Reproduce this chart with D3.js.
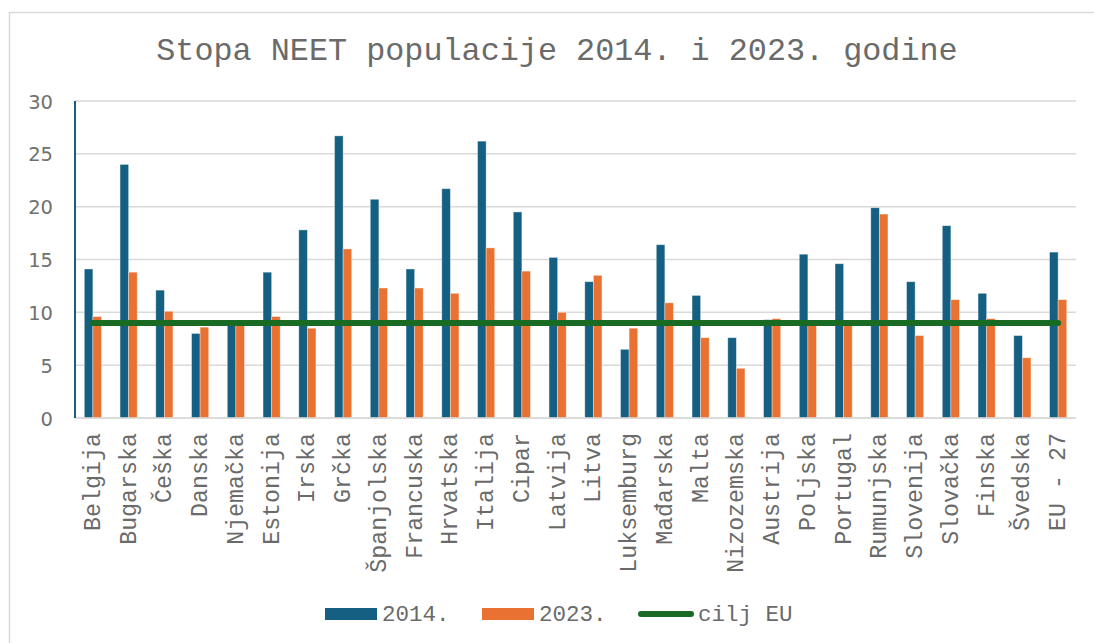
<!DOCTYPE html>
<html>
<head>
<meta charset="utf-8">
<script src="https://cdn.jsdelivr.net/npm/d3@7"></script>
<style>
  html, body { margin: 0; padding: 0; background: #fff; }
  svg { display: block; }
</style>
</head>
<body>
<script>
const width = 1094;
const height = 643;

const countries = [
  "Belgija", "Bugarska", "Češka", "Danska", "Njemačka", "Estonija", "Irska",
  "Grčka", "Španjolska", "Francuska", "Hrvatska", "Italija", "Cipar",
  "Latvija", "Litva", "Luksemburg", "Mađarska", "Malta", "Nizozemska",
  "Austrija", "Poljska", "Portugal", "Rumunjska", "Slovenija", "Slovačka",
  "Finska", "Švedska", "EU - 27"
];
const values2014 = [14.1, 24.0, 12.1, 8.0, 8.8, 13.8, 17.8, 26.7, 20.7, 14.1, 21.7, 26.2, 19.5, 15.2,
  12.9, 6.5, 16.4, 11.6, 7.6, 9.3, 15.5, 14.6, 19.9, 12.9, 18.2, 11.8, 7.8, 15.7];
const values2023 = [9.6, 13.8, 10.1, 8.6, 8.8, 9.6, 8.5, 16.0, 12.3, 12.3, 11.8, 16.1, 13.9, 10.0,
  13.5, 8.5, 10.9, 7.6, 4.7, 9.4, 8.9, 8.9, 19.3, 7.8, 11.2, 9.4, 5.7, 11.2];
const euTarget = countries.map(() => 9);
const yTicks = [0, 5, 10, 15, 20, 25, 30];

const series = [
  { key: "2014.", values: values2014, color: "#156082" },
  { key: "2023.", values: values2023, color: "#E97132" }
];
const lineColor = "#196B24";
// a bit lighter than Office's #595959 since Liberation Mono is heavier than Courier New
const textColor = "#6a6a6a";
const mono = "'Liberation Mono', 'Courier New', monospace";

const margin = { top: 101, right: 18, bottom: 225, left: 75 };

const svg = d3.select("body").append("svg")
  .attr("width", width)
  .attr("height", height);

// chart frame
svg.append("rect")
  .attr("x", 9.5).attr("y", 12.5)
  .attr("width", width + 20).attr("height", height + 20)
  .attr("fill", "none")
  .attr("stroke", "#D9D9D9")
  .attr("stroke-width", 1.5);

const x0 = d3.scaleBand()
  .domain(countries)
  .range([margin.left, width - margin.right])
  .paddingInner(0.52)
  .paddingOuter(0.26);

const x1 = d3.scaleBand()
  .domain(series.map(d => d.key))
  .range([0, x0.bandwidth()]);

const y = d3.scaleLinear()
  .domain([0, 30])
  .range([height - margin.bottom, margin.top]);

// title
svg.append("text")
  .attr("x", 557)
  .attr("y", 60)
  .attr("text-anchor", "middle")
  .attr("font-family", mono)
  .attr("font-size", 31.8)
  .attr("fill", textColor)
  .text("Stopa NEET populacije 2014. i 2023. godine");

// grid
svg.append("g")
  .selectAll("line")
  .data(yTicks)
  .join("line")
  .attr("x1", margin.left)
  .attr("x2", width - margin.right)
  .attr("y1", d => y(d))
  .attr("y2", d => y(d))
  .attr("stroke", "#D9D9D9")
  .attr("stroke-width", 1.5);

// y axis labels
const yAxis = svg.append("g")
  .attr("transform", `translate(${margin.left - 22},0)`)
  .call(d3.axisLeft(y).tickValues(yTicks).tickSize(0).tickPadding(0));
yAxis.select(".domain").remove();
yAxis.selectAll("text")
  .attr("font-family", "'DejaVu Sans', sans-serif")
  .attr("font-size", 19.5)
  .attr("fill", "#707070")
  .attr("dy", "0.36em");

// bars
const groups = svg.append("g")
  .selectAll("g")
  .data(countries)
  .join("g")
  .attr("transform", d => `translate(${x0(d)},0)`);

groups.selectAll("rect")
  .data((d, i) => series.map(s => ({ key: s.key, value: s.values[i], color: s.color })))
  .join("rect")
  .attr("x", d => x1(d.key))
  .attr("width", x1.bandwidth())
  .attr("y", d => y(d.value))
  .attr("height", d => y(0) - y(d.value))
  .attr("fill", d => d.color)
  .attr("stroke", "#ffffff")
  .attr("stroke-opacity", 0.45)
  .attr("stroke-width", 0.8);

// axis lines
svg.append("line")
  .attr("x1", margin.left).attr("x2", width - margin.right)
  .attr("y1", y(0)).attr("y2", y(0))
  .attr("stroke", "#D9D9D9").attr("stroke-width", 1.5);
svg.append("line")
  .attr("x1", margin.left).attr("x2", margin.left)
  .attr("y1", y(30)).attr("y2", y(0))
  .attr("stroke", "#156082").attr("stroke-width", 2);

// EU target line
const line = d3.line()
  .x((d, i) => x0(countries[i]) + x0.bandwidth() / 2)
  .y(d => y(d));
svg.append("path")
  .datum(euTarget)
  .attr("d", line)
  .attr("fill", "none")
  .attr("stroke", lineColor)
  .attr("stroke-width", 6)
  .attr("stroke-linecap", "round");

// x labels
svg.append("g")
  .selectAll("text")
  .data(countries)
  .join("text")
  .attr("transform", d => `translate(${x0(d) + x0.bandwidth() / 2},${y(0) + 15}) rotate(-90)`)
  .attr("text-anchor", "end")
  .attr("dy", "0.3em")
  .attr("font-family", mono)
  .attr("font-size", 23.3)
  .attr("fill", textColor)
  .text(d => d);

// legend
const legendItems = [
  { label: "2014.", color: series[0].color, type: "rect", x: 325 },
  { label: "2023.", color: series[1].color, type: "rect", x: 482 },
  { label: "cilj EU", color: lineColor, type: "line", x: 638 }
];
const legend = svg.append("g")
  .selectAll("g")
  .data(legendItems)
  .join("g")
  .attr("transform", d => `translate(${d.x},614)`);

legend.filter(d => d.type === "rect").append("rect")
  .attr("x", 0).attr("y", -6)
  .attr("width", 52).attr("height", 12)
  .attr("fill", d => d.color);
legend.filter(d => d.type === "line").append("line")
  .attr("x1", 3).attr("x2", 53)
  .attr("y1", 0).attr("y2", 0)
  .attr("stroke", d => d.color)
  .attr("stroke-width", 6)
  .attr("stroke-linecap", "round");
legend.append("text")
  .attr("x", d => d.type === "line" ? 60 : 57)
  .attr("y", 0)
  .attr("dy", "0.33em")
  .attr("font-family", mono)
  .attr("font-size", 22.5)
  .attr("fill", textColor)
  .text(d => d.label);
</script>
</body>
</html>
